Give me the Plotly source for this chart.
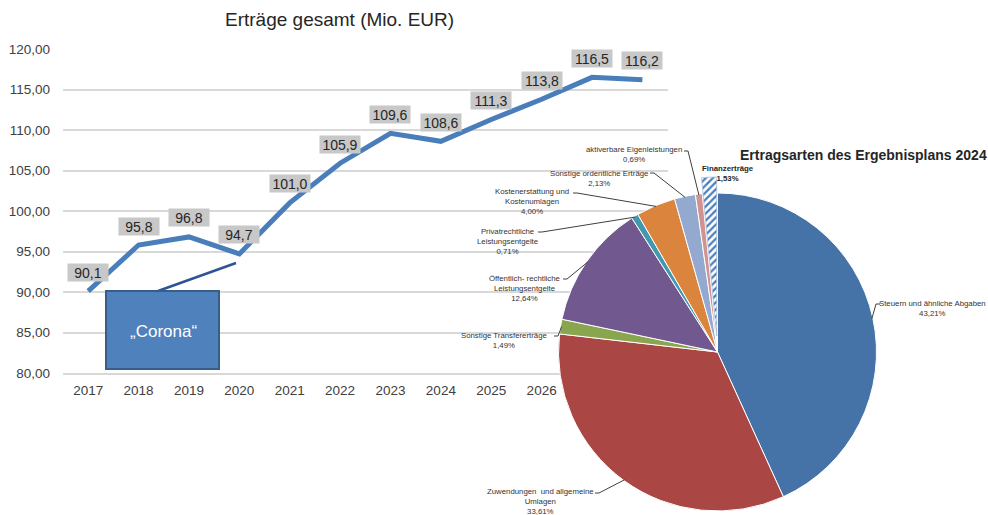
import math
import plotly.graph_objects as go

# ---------------- data ----------------
years = ["2017", "2018", "2019", "2020", "2021", "2022", "2023", "2024", "2025", "2026", "2027", "2028"]
totals = [90.1, 95.8, 96.8, 94.7, 101.0, 105.9, 109.6, 108.6, 111.3, 113.8, 116.5, 116.2]
y_ticks = [80, 85, 90, 95, 100, 105, 110, 115, 120]

pie_names = [
    "Steuern und ähnliche Abgaben",
    "Zuwendungen und allgemeine Umlagen",
    "Sonstige Transfererträge",
    "Öffentlich- rechtliche Leistungsentgelte",
    "Privatrechtliche Leistungsentgelte",
    "Kostenerstattung und Kostenumlagen",
    "Sonstige ordentliche Erträge",
    "aktiverbare Eigenleistungen",
    "Finanzerträge",
]
pie_label_lines = [
    ["Steuern und ähnliche Abgaben"],
    ["Zuwendungen  und allgemeine", "Umlagen"],
    ["Sonstige Transfererträge"],
    ["Öffentlich- rechtliche", "Leistungsentgelte"],
    ["Privatrechtliche", "Leistungsentgelte"],
    ["Kostenerstattung und", "Kostenumlagen"],
    ["Sonstige ordentliche Erträge"],
    ["aktiverbare Eigenleistungen"],
    ["Finanzerträge"],
]
pie_shares = [43.21, 33.61, 1.49, 12.64, 0.71, 4.00, 2.13, 0.69, 1.53]

# ---------------- styles ----------------
W, H = 988, 515
FONT = "Liberation Sans, Arial, sans-serif"
pie_colors = ["#4572a7", "#aa4643", "#89a54e", "#71588f", "#4198af",
              "#db843d", "#93a9cf", "#d19392", "#ffffff"]
exploded = 8  # index of pulled-out slice
pull_px = 16

# pixel geometry of the pie (centre, radius)
PCX, PCY, PR = 717.5, 352.0, 159.0

# label centres and leader start points (pixels)
label_pos = [(932, 308.5), (540, 501), (504, 340), (524, 288), (507, 241),
             (532, 201.5), (599, 178.5), (634, 154), (728, 173)]
leader_start = [(880, 304), (595, 493), (554, 336), (563, 279), (538, 232),
                (573, 193), (650, 173), (684, 151), None]


def fx(x):
    return x / W


def fy(y):
    return 1 - y / H


def fmt(v, d):
    return f"{v:.{d}f}".replace(".", ",")


fig = go.Figure()

# ---------------- line chart ----------------
fig.add_trace(go.Scatter(
    x=years, y=totals, mode="lines",
    line=dict(color="#4a7ebb", width=5),
    hoverinfo="skip", showlegend=False,
))

for i, v in enumerate(totals):
    fig.add_annotation(
        x=i, y=v, xref="x", yref="y", text=fmt(v, 1), showarrow=False,
        xanchor="center", yanchor="middle",
        yshift=19, bgcolor="#c8c8c8", width=40, height=17, borderpad=0,
        font=dict(family=FONT, size=14, color="#262626"),
    )

# ---------------- pie chart ----------------
main_colors = [c if i != exploded else "rgba(0,0,0,0)" for i, c in enumerate(pie_colors)]
main_lines = ["#ffffff" if i != exploded else "rgba(0,0,0,0)" for i in range(len(pie_colors))]
fig.add_trace(go.Pie(
    labels=pie_names, values=pie_shares, sort=False, direction="clockwise", rotation=0,
    textinfo="none", hoverinfo="skip", showlegend=False,
    marker=dict(colors=main_colors, line=dict(color=main_lines, width=1)),
    domain=dict(x=[fx(PCX - PR), fx(PCX + PR)], y=[fy(PCY + PR), fy(PCY - PR)]),
))

# exploded slice drawn as a second, shifted pie
cum = sum(pie_shares[:exploded]) + pie_shares[exploded] / 2
ang = math.radians(cum / sum(pie_shares) * 360)
dx, dy = pull_px * math.sin(ang), -pull_px * math.cos(ang)
ex_colors = ["rgba(0,0,0,0)"] * len(pie_colors)
ex_colors[exploded] = "#ffffff"
ex_lines = ["rgba(0,0,0,0)"] * len(pie_colors)
ex_lines[exploded] = "#a9bfdc"
ex_shapes = [""] * len(pie_colors)
ex_shapes[exploded] = "/"
fig.add_trace(go.Pie(
    labels=pie_names, values=pie_shares, sort=False, direction="clockwise", rotation=0,
    textinfo="none", hoverinfo="skip", showlegend=False,
    marker=dict(colors=ex_colors, line=dict(color=ex_lines, width=0.8),
                pattern=dict(shape=ex_shapes, fgcolor="#4a7ebb", bgcolor="#ffffff",
                             size=5, solidity=0.45)),
    domain=dict(x=[fx(PCX - PR + dx), fx(PCX + PR + dx)],
                y=[fy(PCY + PR + dy), fy(PCY - PR + dy)]),
))

# pie labels and leader lines
total = sum(pie_shares)
run = 0.0
shapes = []
for i, (lines, share) in enumerate(zip(pie_label_lines, pie_shares)):
    mid = math.radians((run + share / 2) / total * 360)
    run += share
    txt = "<br>".join(lines + [fmt(share, 2) + "%"])
    if i == exploded:
        txt = "<b>" + txt + "</b>"
    lx, ly = label_pos[i]
    fig.add_annotation(
        x=fx(lx), y=fy(ly), xref="paper", yref="paper", text=txt, showarrow=False,
        xanchor="center", yanchor="middle", align="center",
        font=dict(family=FONT, size=7.8, color="#333333" if i != exploded else "#262626"),
    )
    if leader_start[i] is not None:
        sx, sy = leader_start[i]
        ax = PCX + (PR - 1) * math.sin(mid)
        ay = PCY - (PR - 1) * math.cos(mid)
        stub = 4 if ax > sx else -4
        path = f"M {fx(sx)},{fy(sy)} L {fx(sx + stub)},{fy(sy)} L {fx(ax)},{fy(ay)}"
        shapes.append(dict(type="path", path=path, xref="paper", yref="paper",
                           line=dict(color="#404040", width=1)))

# ---------------- decorations ----------------
# "Corona" box and connector
shapes.append(dict(type="line", xref="paper", yref="paper",
                   x0=fx(158), y0=fy(291), x1=fx(236), y1=fy(263),
                   line=dict(color="#2f5496", width=2.5)))
shapes.append(dict(type="rect", xref="paper", yref="paper",
                   x0=fx(106), y0=fy(369), x1=fx(219), y1=fy(291),
                   fillcolor="#4f81bd", line=dict(color="#385d8a", width=2)))
fig.add_annotation(x=fx(163), y=fy(331), xref="paper", yref="paper",
                   xanchor="center", yanchor="middle",
                   text="„Corona“", showarrow=False,
                   font=dict(family=FONT, size=17, color="#ffffff"))

fig.add_annotation(x=fx(339), y=fy(20), xref="paper", yref="paper",
                   xanchor="center", yanchor="middle",
                   text="Erträge gesamt (Mio. EUR)", showarrow=False,
                   font=dict(family=FONT, size=19, color="#262626"))
fig.add_annotation(x=fx(863), y=fy(155), xref="paper", yref="paper",
                   xanchor="center", yanchor="middle",
                   text="<b>Ertragsarten des Ergebnisplans 2024</b>", showarrow=False,
                   font=dict(family=FONT, size=14, color="#262626"))

fig.update_layout(
    width=W, height=H, margin=dict(l=0, r=0, t=0, b=0, autoexpand=False),
    paper_bgcolor="white", plot_bgcolor="white",
    separators=",.",
    font=dict(family=FONT, color="#404040"),
    shapes=shapes,
    xaxis=dict(type="category", range=[-0.5, 11.5], domain=[fx(63), fx(667.6)],
               showgrid=False, showline=True, linecolor="#d9d9d9", linewidth=1.5,
               ticks="", ticklabelstandoff=4, tickfont=dict(size=13.5, color="#404040"),
               fixedrange=True, automargin=False),
    yaxis=dict(range=[80, 120], domain=[fy(373), fy(49)], tickvals=y_ticks,
               tickformat=".2f", showgrid=True, gridcolor="#d9d9d9", gridwidth=1.5,
               zeroline=False, ticks="", ticklabelstandoff=12,
               tickfont=dict(size=13.5, color="#404040"), fixedrange=True,
               automargin=False),
)

fig.write_html("out.html", post_script="document.body.style.margin='0';",
               config=dict(displayModeBar=False))
